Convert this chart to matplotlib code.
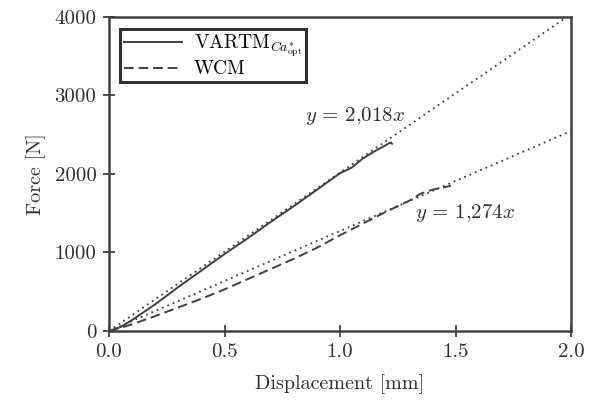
import matplotlib
matplotlib.use("Agg")
import matplotlib.pyplot as plt
import numpy as np

plt.rcParams["font.family"] = ["cmr10", "DejaVu Serif"]
plt.rcParams["mathtext.fontset"] = "cm"
plt.rcParams["axes.formatter.use_mathtext"] = True

# Measured force-displacement curves
vartm_disp = [0.0, 0.05, 0.1, 0.2, 0.3, 0.4, 0.5, 0.6, 0.7, 0.8, 0.9, 1.0,
              1.05, 1.1, 1.15, 1.2, 1.21, 1.22, 1.225]
vartm_force = [0, 50, 140, 340, 560, 770, 980, 1180, 1390, 1590, 1800, 2010,
               2080, 2200, 2290, 2370, 2390, 2400, 2385]

wcm_disp = [0.0, 0.05, 0.1, 0.2, 0.3, 0.4, 0.5, 0.6, 0.7, 0.8, 0.9, 1.0,
            1.1, 1.2, 1.3, 1.35, 1.4, 1.48]
wcm_force = [0, 40, 85, 190, 300, 410, 530, 660, 790, 920, 1060, 1220,
             1370, 1520, 1660, 1750, 1800, 1850]

# Linear stiffness fits (N/mm)
slope_vartm = 2018
slope_wcm = 1274

x_ticks = [0.0, 0.5, 1.0, 1.5, 2.0]
y_ticks = [0, 1000, 2000, 3000, 4000]

fig = plt.figure(figsize=(5.93, 4.01), dpi=100)
ax = fig.add_axes([0.1838, 0.1746, 0.7792, 0.783])

col = "#404040"
txt = "#303030"
fit_x = np.array([0.0, 2.0])
ax.plot(fit_x, slope_vartm * fit_x, ls=(0, (1, 2.2)), color=col, lw=1.3)
ax.plot(fit_x, slope_wcm * fit_x, ls=(0, (1, 2.2)), color=col, lw=1.3)

ax.plot(vartm_disp, vartm_force, color=col, lw=1.4,
        label=r"VARTM$_{Ca^{*}_{\mathrm{opt}}}$")
ax.plot(wcm_disp, wcm_force, color=col, lw=1.4, ls=(0, (5, 2.5)),
        label="WCM")

ax.text(1.065, 2742, r"$y\,=\,2{,}018x$", fontsize=15, ha="center", va="center",
        color=txt)
ax.text(1.54, 1505, r"$y\,=\,1{,}274x$", fontsize=15, ha="center", va="center",
        color=txt)

ax.set_xlim(0, 2.0)
ax.set_ylim(0, 4000)
ax.set_xticks(x_ticks)
ax.set_yticks(y_ticks)
ax.set_xticklabels([f"{v:.1f}" for v in x_ticks])
ax.set_yticklabels([str(v) for v in y_ticks])
ax.tick_params(direction="inout", length=8, width=1.3, color=col,
               labelsize=15, labelcolor=txt, pad=5)
for s in ax.spines.values():
    s.set_color(col)
    s.set_linewidth(1.8)

ax.set_xlabel("Displacement [mm]", fontsize=14.5, color=txt, labelpad=9)
ax.set_ylabel("Force [N]", fontsize=14.5, color=txt, labelpad=6)

leg = ax.legend(loc="upper left", bbox_to_anchor=(0.015, 0.975), fontsize=14,
                fancybox=False, framealpha=1, edgecolor="#303030",
                handlelength=3.0, borderpad=0.2, labelspacing=0.05,
                handletextpad=0.6, borderaxespad=0.2)
leg.get_frame().set_linewidth(2.2)

fig.savefig("out.png", dpi=100)
